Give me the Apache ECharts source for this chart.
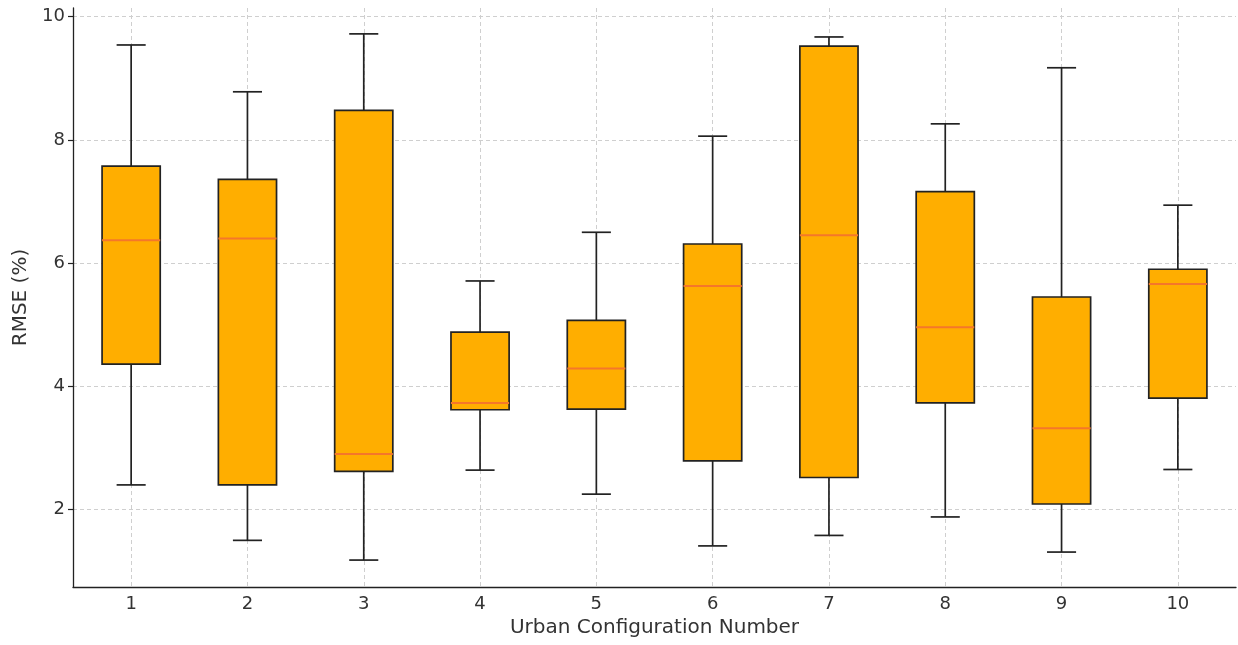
<!DOCTYPE html>
<html>
<head>
<meta charset="utf-8">
<script src="https://cdn.jsdelivr.net/npm/echarts@6/dist/echarts.min.js"></script>
<style>
html,body{margin:0;padding:0;background:#fff;}
#chart{width:1238px;height:645px;}
</style>
</head>
<body>
<div id="chart"></div>
<script>
const categories = ['1','2','3','4','5','6','7','8','9','10'];
const whiskerLow = [2.40, 1.50, 1.18, 2.64, 2.25, 1.41, 1.58, 1.88, 1.31, 2.65];
const q1 =         [4.36, 2.40, 2.62, 3.62, 3.63, 2.79, 2.52, 3.73, 2.09, 3.81];
const median =     [6.37, 6.40, 2.90, 3.73, 4.29, 5.63, 6.45, 4.96, 3.32, 5.66];
const q3 =         [7.575, 7.36, 8.48, 4.88, 5.07, 6.31, 9.52, 7.16, 5.45, 5.90];
const whiskerHigh =[9.54, 8.78, 9.72, 5.71, 6.50, 8.06, 9.67, 8.26, 9.17, 6.94];
const yTicks = [2, 4, 6, 8, 10];
const xGridValues = [1,2,3,4,5,6,7,8,9,10];

const boxData = categories.map((c, i) => [i, whiskerLow[i], q1[i], median[i], q3[i], whiskerHigh[i]]);

const chart = echarts.init(document.getElementById('chart'), null, {renderer: 'canvas'});
const font = 'DejaVu Sans';
const textColor = '#333';
const edge = '#222';

function renderBox(params, api) {
  const idx = api.value(0);
  const band = api.size([1, 0])[0];
  const halfBox = band * 0.25;
  const halfCap = band * 0.125;
  const pLow = api.coord([idx, api.value(1)]);
  const pQ1 = api.coord([idx, api.value(2)]);
  const pMed = api.coord([idx, api.value(3)]);
  const pQ3 = api.coord([idx, api.value(4)]);
  const pHigh = api.coord([idx, api.value(5)]);
  const x = pQ1[0];
  const lineStyle = {stroke: edge, lineWidth: 1.7, fill: null};
  return {
    type: 'group',
    children: [
      {type: 'line', shape: {x1: x, y1: pQ1[1], x2: x, y2: pLow[1]}, style: lineStyle},
      {type: 'line', shape: {x1: x, y1: pQ3[1], x2: x, y2: pHigh[1]}, style: lineStyle},
      {type: 'line', shape: {x1: x - halfCap, y1: pLow[1], x2: x + halfCap, y2: pLow[1]}, style: lineStyle},
      {type: 'line', shape: {x1: x - halfCap, y1: pHigh[1], x2: x + halfCap, y2: pHigh[1]}, style: lineStyle},
      {type: 'rect', shape: {x: x - halfBox, y: pQ3[1], width: halfBox * 2, height: pQ1[1] - pQ3[1]},
        style: {fill: '#FFAE00', stroke: edge, lineWidth: 1.7}},
      {type: 'line', shape: {x1: x - halfBox, y1: pMed[1], x2: x + halfBox, y2: pMed[1]},
        style: {stroke: '#F5772A', lineWidth: 2}}
    ]
  };
}

const option = {
  animation: false,
  backgroundColor: '#fff',
  grid: {left: 73, right: 2, top: 8, bottom: 58, containLabel: false},
  xAxis: [
    {
      type: 'category',
      data: categories,
      boundaryGap: true,
      name: 'Urban Configuration Number',
      nameLocation: 'middle',
      nameGap: 31,
      nameTextStyle: {fontFamily: font, fontSize: 20, color: textColor},
      axisLine: {lineStyle: {color: edge, width: 1.3}},
      axisTick: {alignWithLabel: true, length: 5, lineStyle: {color: edge, width: 1.2}},
      axisLabel: {fontFamily: font, fontSize: 18, color: textColor, margin: 8},
      splitLine: {show: false}
    },
    {
      type: 'value',
      min: 0.5,
      max: 10.5,
      show: true,
      position: 'bottom',
      axisLine: {show: false},
      axisLabel: {show: false},
      axisTick: {show: false, customValues: xGridValues},
      splitLine: {show: true, lineStyle: {color: '#cfcfcf', type: [4, 3], width: 1}}
    }
  ],
  yAxis: {
    type: 'value',
    min: 0.743,
    max: 10.14,
    name: 'RMSE (%)',
    nameLocation: 'middle',
    nameGap: 40,
    nameRotate: 90,
    nameTextStyle: {fontFamily: font, fontSize: 20, color: textColor},
    axisLine: {show: true, lineStyle: {color: edge, width: 1.3}},
    axisTick: {show: true, length: 5, customValues: yTicks, lineStyle: {color: edge, width: 1.2}},
    axisLabel: {fontFamily: font, fontSize: 18, color: textColor, margin: 8, customValues: yTicks},
    splitLine: {show: true, lineStyle: {color: '#cfcfcf', type: [4, 3], width: 1}}
  },
  series: [{
    type: 'custom',
    xAxisIndex: 0,
    renderItem: renderBox,
    encode: {x: 0, y: [1, 2, 3, 4, 5]},
    data: boxData,
    z: 5
  }]
};
chart.setOption(option);
</script>
</body>
</html>
